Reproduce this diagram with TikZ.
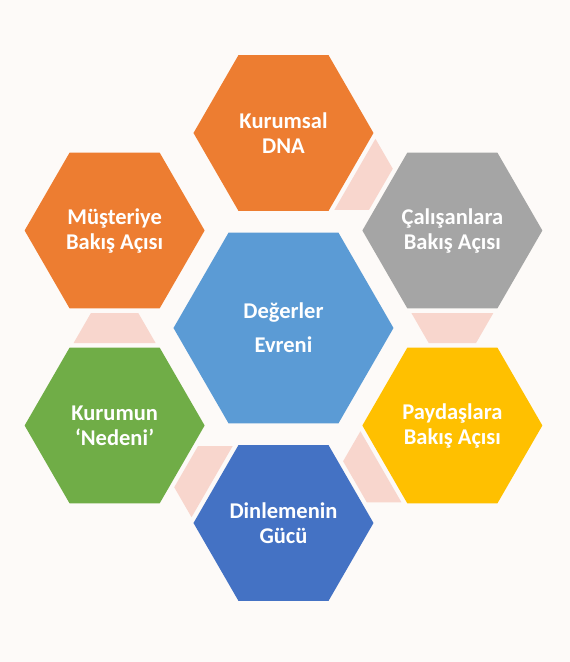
\documentclass[tikz,border=0pt]{standalone}
\usepackage{fontspec}
\setmainfont{Carlito}
\usetikzlibrary{shapes.geometric}

\definecolor{bgcream}{HTML}{FDFAF8}
\definecolor{hexorange}{HTML}{ED7D31}
\definecolor{hexgrey}{HTML}{A5A5A5}
\definecolor{hexgold}{HTML}{FFC000}
\definecolor{hexblue}{HTML}{4472C4}
\definecolor{hexgreen}{HTML}{70AD47}
\definecolor{hexsky}{HTML}{5B9BD5}
\definecolor{gappink}{HTML}{F8D6CD}

\begin{document}
\begin{tikzpicture}[
  hexbox/.style={regular polygon, regular polygon sides=6, minimum size=180pt,
    inner sep=0pt, fill=#1, text=white, align=center,
    font=\bfseries\fontsize{22.5}{25}\selectfont},
  pinkgap/.style={fill=gappink}
]

  % Page with its margins
  \fill[bgcream] (-283.5pt,-334pt) rectangle (286.5pt,328pt);
  \useasboundingbox (-283.5pt,-334pt) rectangle (286.5pt,328pt);

  % Distance from the middle to each outer hexagon
  \def\R{195pt}

  % Middle hexagon
  \node[hexbox=hexsky, minimum size=220pt, font=\bfseries\fontsize{22.5}{34}\selectfont]
    (core) at (0,0) {Değerler\\Evreni};

  % Outer ring, clockwise from the top
  \node[hexbox=hexorange] (dna)    at (90:\R)  {Kurumsal\\DNA};
  \node[hexbox=hexgrey]   (staff)  at (30:\R)  {Çalışanlara\\Bakış Açısı};
  \node[hexbox=hexgold]   (stake)  at (-30:\R) {Paydaşlara\\Bakış Açısı};
  \node[hexbox=hexblue]   (listen) at (-90:\R) {Dinlemenin\\Gücü};
  \node[hexbox=hexgreen]  (reason) at (210:\R) {Kurumun\\‘Nedeni’};
  \node[hexbox=hexorange] (cust)   at (150:\R) {Müşteriye\\Bakış Açısı};

  % Pink trapezoids in the gaps, long side towards the earlier hexagon
  % The gap centre lies at R*cos(30) on the bisecting ray
  \foreach \a in {90,30,-30,-90,210}
    \fill[pinkgap, shift={(\a-30:{195*cos(30)*1pt})}, rotate=\a-120]
      (-15pt,-41pt) -- (-15pt,41pt) -- (15pt,23.68pt) -- (15pt,-23.68pt) -- cycle;

\end{tikzpicture}
\end{document}
